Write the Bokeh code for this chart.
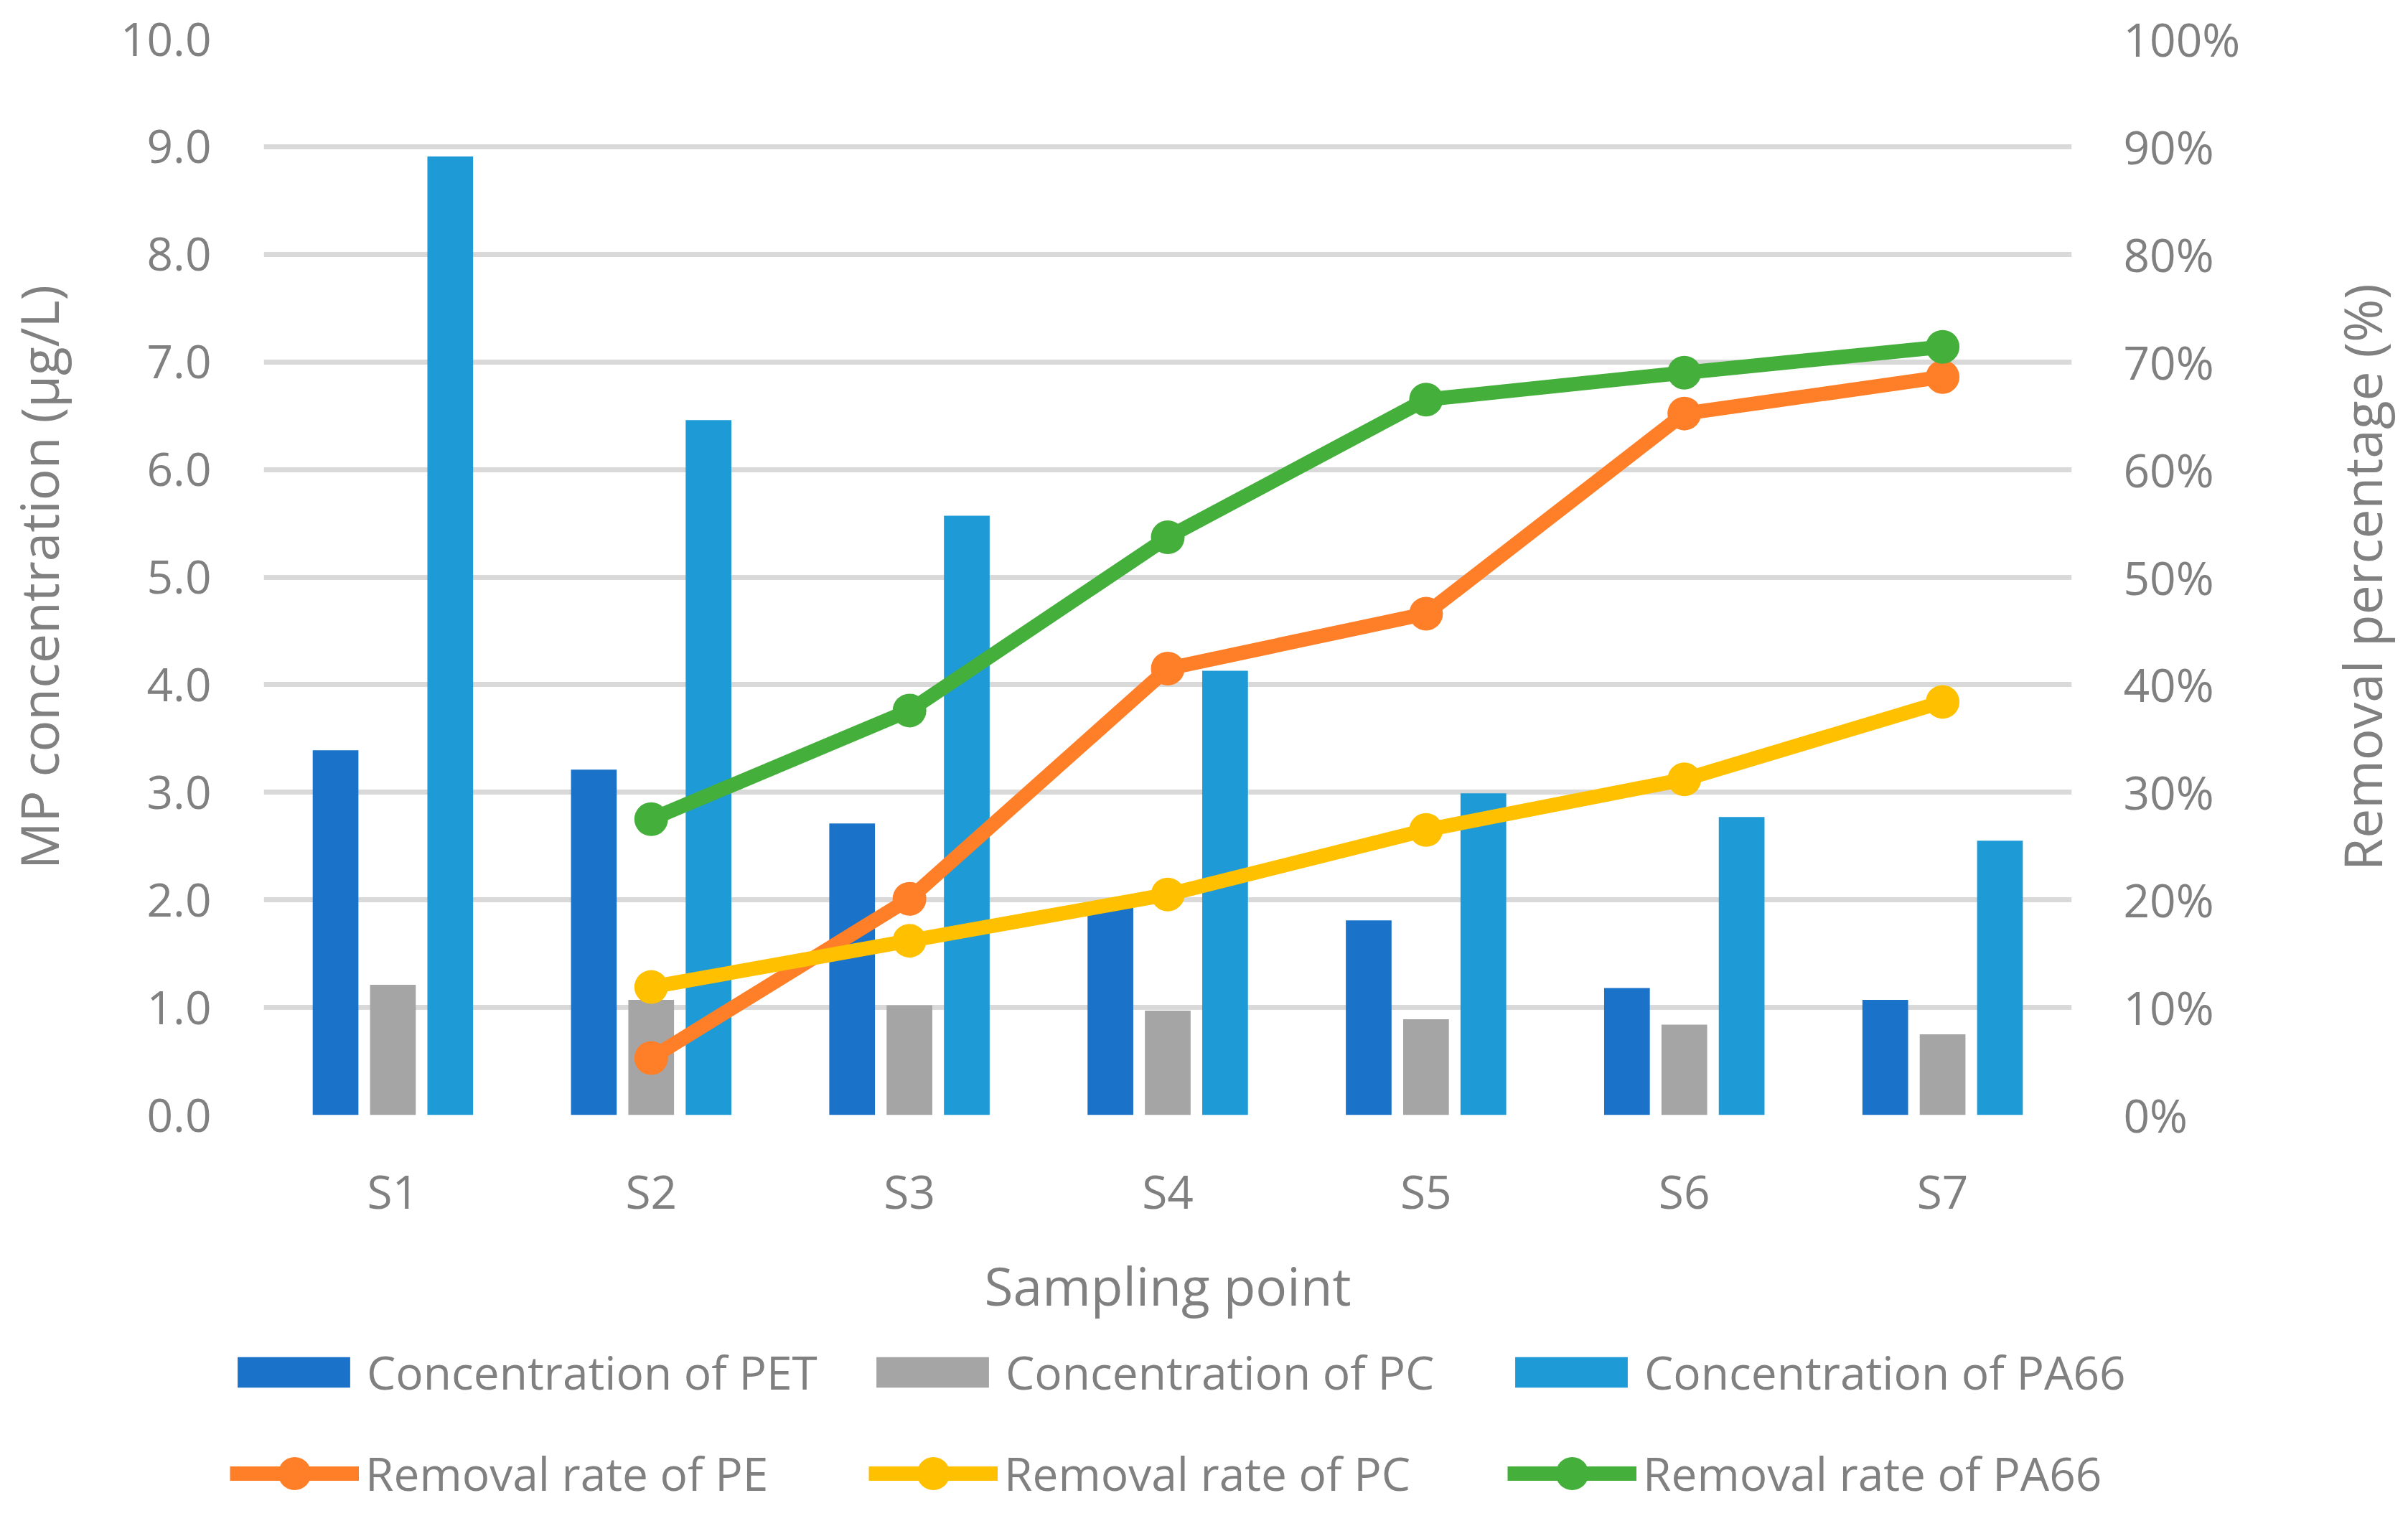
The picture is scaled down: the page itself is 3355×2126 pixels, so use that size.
import math
from bokeh.plotting import figure
from bokeh.layouts import column
from bokeh.models import (FactorRange, Range1d, LinearAxis, FixedTicker, NumeralTickFormatter,
                          ColumnDataSource, Legend, LegendItem, Label)
from bokeh.transform import dodge
from bokeh.embed import file_html
from bokeh.resources import INLINE

nan = float("nan")
sites = ["S1", "S2", "S3", "S4", "S5", "S6", "S7"]
conc_pet = [3.39, 3.21, 2.71, 1.96, 1.81, 1.18, 1.07]
conc_pc = [1.21, 1.07, 1.02, 0.97, 0.89, 0.84, 0.75]
conc_pa66 = [8.91, 6.46, 5.57, 4.13, 2.99, 2.77, 2.55]
rem_pe = [nan, 0.053, 0.201, 0.415, 0.466, 0.652, 0.686]
rem_pc = [nan, 0.119, 0.162, 0.205, 0.265, 0.312, 0.384]
rem_pa66 = [nan, 0.275, 0.376, 0.537, 0.665, 0.690, 0.714]
left_ticks = [0, 1, 2, 3, 4, 5, 6, 7, 8, 9, 10]
right_ticks = [0.0, 0.1, 0.2, 0.3, 0.4, 0.5, 0.6, 0.7, 0.8, 0.9, 1.0]
bar_labels = ["Concentration of PET", "Concentration of PC", "Concentration of PA66"]
line_labels = ["Removal rate of PE", "Removal rate of PC", "Removal rate of PA66"]

src = ColumnDataSource(dict(site=sites, pet=conc_pet, pc=conc_pc, pa66=conc_pa66,
                            rpe=rem_pe, rpc=rem_pc, rpa=rem_pa66))

FONT = "Open Sans"
TXT = "#808080"
C_PET, C_PC, C_PA = "#1A73C9", "#A5A5A5", "#1E9BD7"
C_OR, C_YE, C_GR = "#FE7F28", "#FFC000", "#45AF3C"
W = 3339
H_MAIN = 1843
H_LEG = 267

p = figure(width=W, height=H_MAIN, x_range=FactorRange(factors=sites), y_range=Range1d(0, 10),
           output_backend="svg", toolbar_location=None,
           min_border_left=362, min_border_right=453, min_border_top=54, min_border_bottom=290)
p.outline_line_color = None
p.background_fill_color = "white"
p.extra_y_ranges = {"pct": Range1d(0, 1)}
p.frame_align = False

# grid
p.xgrid.grid_line_color = None
p.ygrid.grid_line_color = "#D9D9D9"
p.ygrid.grid_line_width = 7
p.ygrid.ticker = FixedTicker(ticks=left_ticks)

bw = 0.177
off = 0.222
p.vbar(x=dodge("site", -off, range=p.x_range), top="pet", width=bw, source=src,
       fill_color=C_PET, line_color=None)
p.vbar(x=dodge("site", 0, range=p.x_range), top="pc", width=bw, source=src,
       fill_color=C_PC, line_color=None)
p.vbar(x=dodge("site", off, range=p.x_range), top="pa66", width=bw, source=src,
       fill_color=C_PA, line_color=None)

lw = 20
ms = 47
for col, c in (("rpe", C_OR), ("rpc", C_YE), ("rpa", C_GR)):
    p.line("site", col, source=src, y_range_name="pct", line_color=c, line_width=lw,
           line_join="round")
    p.scatter("site", col, source=src, y_range_name="pct", size=ms, fill_color=c,
              line_color=None)

def style_axis(ax):
    ax.axis_line_color = None
    ax.major_tick_line_color = None
    ax.minor_tick_line_color = None
    ax.major_tick_out = 0
    ax.major_tick_in = 0
    ax.major_label_text_font = FONT
    ax.major_label_text_font_size = "64px"
    ax.major_label_text_color = TXT
    ax.axis_label_text_font = FONT
    ax.axis_label_text_font_size = "73px"
    ax.axis_label_text_font_style = "normal"
    ax.axis_label_text_color = TXT

# x axis
xa = p.xaxis[0]
style_axis(xa)
xa.axis_label = "Sampling point"
xa.major_label_standoff = 62
xa.axis_label_standoff = 35

# left axis
ya = p.yaxis[0]
style_axis(ya)
ya.ticker = FixedTicker(ticks=left_ticks)
ya.formatter = NumeralTickFormatter(format="0.0")
ya.axis_label = "MP concentration (µg/L)"
ya.major_label_standoff = 73
ya.axis_label_standoff = 62

# right axis
ra = LinearAxis(y_range_name="pct")
style_axis(ra)
ra.ticker = FixedTicker(ticks=right_ticks)
ra.formatter = NumeralTickFormatter(format="0%")
ra.major_label_standoff = 72
p.add_layout(ra, "right")

# right axis title (reads bottom to top)
rtitle = Label(x=166, y=0.5, x_units="screen", y_units="data", y_range_name="pct",
               text="Removal percentage (%)", angle=math.pi / 2,
               text_align="center", text_baseline="middle",
               text_font=FONT, text_font_size="73px", text_color=TXT)
p.add_layout(rtitle, "right")

# legend strip (separate figure under the chart)
q = figure(width=W, height=H_LEG, x_range=Range1d(0, 1), y_range=Range1d(0, 1),
           output_backend="svg", toolbar_location=None,
           x_axis_location=None, y_axis_location=None,
           min_border_left=0, min_border_right=0, min_border_top=0, min_border_bottom=0)
q.outline_line_color = None
q.xgrid.grid_line_color = None
q.ygrid.grid_line_color = None
q.frame_align = False

# legend proxies (kept well outside the visible range of the strip)
bar_items = []
for lab, c in zip(bar_labels, (C_PET, C_PC, C_PA)):
    r = q.vbar(x=[-2], top=[-5], bottom=[-6], width=0.01, fill_color=c, line_color=None)
    bar_items.append(LegendItem(label=lab, renderers=[r]))
line_items = []
for lab, c in zip(line_labels, (C_OR, C_YE, C_GR)):
    rl = q.line(x=[-3, -2], y=[-5, -5], line_color=c, line_width=lw)
    rs = q.scatter(x=[-2], y=[-5], size=ms, fill_color=c, line_color=None)
    line_items.append(LegendItem(label=lab, renderers=[rl, rs]))

leg1 = Legend(items=bar_items, orientation="horizontal", location=(311, 155),
              glyph_width=196, glyph_height=53, label_standoff=4,
              label_width=690, spacing=0,
              padding=0, margin=0, border_line_color=None, background_fill_alpha=0,
              label_text_font=FONT, label_text_font_size="64px", label_text_color=TXT)
leg2 = Legend(items=line_items, orientation="horizontal", location=(320, 0),
              glyph_width=180, glyph_height=115, label_standoff=9,
              label_width=701, spacing=0,
              padding=0, margin=0, border_line_color=None, background_fill_alpha=0,
              label_text_font=FONT, label_text_font_size="64px", label_text_color=TXT)
q.add_layout(leg1, "center")
q.add_layout(leg2, "center")

layout = column(p, q, spacing=0)
open("out.html", "w").write(file_html(layout, INLINE))
